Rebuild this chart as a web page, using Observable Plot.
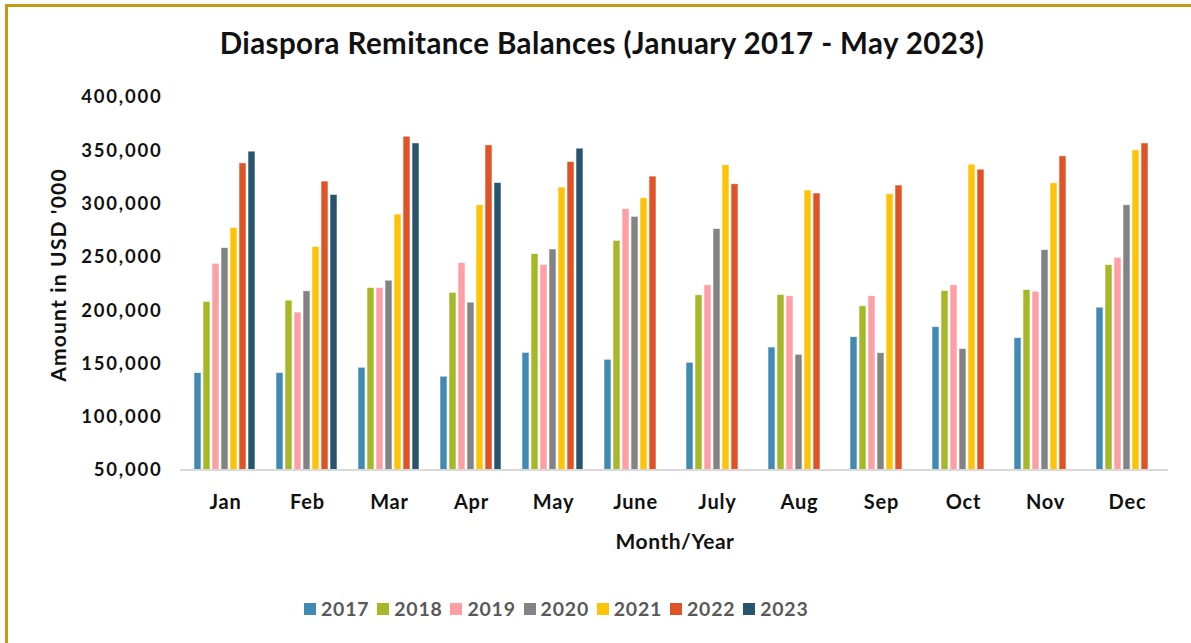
<!DOCTYPE html>
<html>
<head>
<meta charset="utf-8">
<script src="https://cdn.jsdelivr.net/npm/d3@7"></script>
<script src="https://cdn.jsdelivr.net/npm/@observablehq/plot@0.6"></script>
<style>
  html, body { margin: 0; padding: 0; background: #fff; }
  #wrap { position: relative; width: 1191px; height: 643px; overflow: hidden; background: #fff; font-family: Lato, "Open Sans", sans-serif; }
  #frame { position: absolute; left: 5px; top: 4px; right: -10px; bottom: -10px; border-left: 3px solid #C49A12; border-top: 3px solid #C49A12; }
  #title { position: absolute; top: 25px; left: 0; width: 1204px; text-align: center; font-size: 29.5px; font-weight: bold; color: #111; letter-spacing: 0.4px; }
  #chart { position: absolute; top: 70px; left: 0; }
  #ylab { position: absolute; left: 57px; top: 275px; transform: translate(-50%, -50%) rotate(-90deg); white-space: nowrap; font-size: 21px; font-weight: bold; color: #111; letter-spacing: 1.2px; }
  #xlab { position: absolute; left: 675px; top: 540px; transform: translate(-50%, -50%); white-space: nowrap; font-size: 21px; font-weight: bold; color: #111; letter-spacing: 0.5px; }
  #legend { position: absolute; top: 597px; left: 297px; display: flex; }
  .item { width: 73.2px; display: flex; align-items: center; font-size: 19.5px; font-weight: bold; color: #595959; letter-spacing: 0.8px; }
  .sw { width: 12px; height: 12px; margin-right: 5px; margin-left: 7px; }
  #chart svg [aria-label^="y-axis"] text { font-size: 18.5px; letter-spacing: 1.8px; }
  #chart svg [aria-label^="fx-axis"] text { font-size: 20px; letter-spacing: 0.8px; }
</style>
</head>
<body>
<div id="wrap">
  <div id="frame"></div>
  <div id="title">Diaspora Remitance Balances (January 2017 - May 2023)</div>
  <div id="chart"></div>
  <div id="ylab">Amount in USD '000</div>
  <div id="xlab">Month/Year</div>
  <div id="legend"></div>
</div>
<script>
const months = ["Jan","Feb","Mar","Apr","May","June","July","Aug","Sep","Oct","Nov","Dec"];
const years = ["2017","2018","2019","2020","2021","2022","2023"];
const colors = ["#418AB3","#A6B727","#FE9EA5","#838383","#FEC306","#DF5327","#28546D"];
const yTicks = [50000,100000,150000,200000,250000,300000,350000,400000];

const v2017 = [141400,141400,146400,138000,160400,153900,151100,165400,175100,184500,174200,202800];
const v2018 = [208200,209400,221300,216600,253100,265500,214400,214700,204100,218400,219400,242800];
const v2019 = [244000,198200,221300,244600,242800,295200,223800,213500,213500,223800,217800,249600];
const v2020 = [258700,218100,228100,207500,257400,288000,276500,158600,160100,163900,256800,298900];
const v2021 = [277700,259600,290200,298900,315500,305500,336400,312700,309200,337000,319500,350400];
const v2022 = [338200,321100,363200,355100,339500,325800,318600,309900,317400,332300,344800,356900];
const v2023 = [349200,308600,356900,319800,352000,null,null,null,null,null,null,null];

const series = [v2017, v2018, v2019, v2020, v2021, v2022, v2023];
const data = [];
series.forEach((vals, i) => {
  vals.forEach((v, j) => {
    if (v != null) data.push({month: months[j], year: years[i], value: v});
  });
});

const yMin = yTicks[0];
const W = 1191, H = 490, mL = 183, mR = 23, mT = 27, mB = 90;

const plot = Plot.plot({
  width: W, height: H,
  marginTop: mT, marginBottom: mB, marginLeft: mL, marginRight: mR,
  style: {fontFamily: "Lato, 'Open Sans', sans-serif", fontWeight: "bold", color: "#111", background: "transparent"},
  facet: {data: data, x: "month", label: null},
  fx: {domain: months, paddingInner: 0.2, paddingOuter: 0.1, label: null, axis: "bottom", tickSize: 0, tickPadding: 24},
  x: {domain: years, paddingInner: 0.2, paddingOuter: 0, axis: null},
  y: {domain: [yMin, 400000], ticks: yTicks, tickFormat: d3.format(","), label: null, tickSize: 0, tickPadding: 30},
  color: {domain: years, range: colors},
  marks: [
    Plot.barY(data, {x: "year", y1: d => yMin, y2: "value", fill: "year", stroke: "#ffffff", strokeOpacity: 0.7, strokeWidth: 0.8})
  ]
});
document.getElementById("chart").appendChild(plot);

// baseline (axis line) at the y scale's bottom
const yr = plot.scale("y").range;
const base = Math.max(yr[0], yr[1]);
d3.select(plot).append("line")
  .attr("x1", mL - 3).attr("x2", W - mR)
  .attr("y1", base).attr("y2", base)
  .attr("stroke", "#d9d9d9").attr("stroke-width", 2);

// legend
const leg = document.getElementById("legend");
years.forEach((y, i) => {
  const it = document.createElement("div");
  it.className = "item";
  const sw = document.createElement("span");
  sw.className = "sw";
  sw.style.background = colors[i];
  it.appendChild(sw);
  const t = document.createElement("span");
  t.textContent = y;
  it.appendChild(t);
  leg.appendChild(it);
});
</script>
</body>
</html>
